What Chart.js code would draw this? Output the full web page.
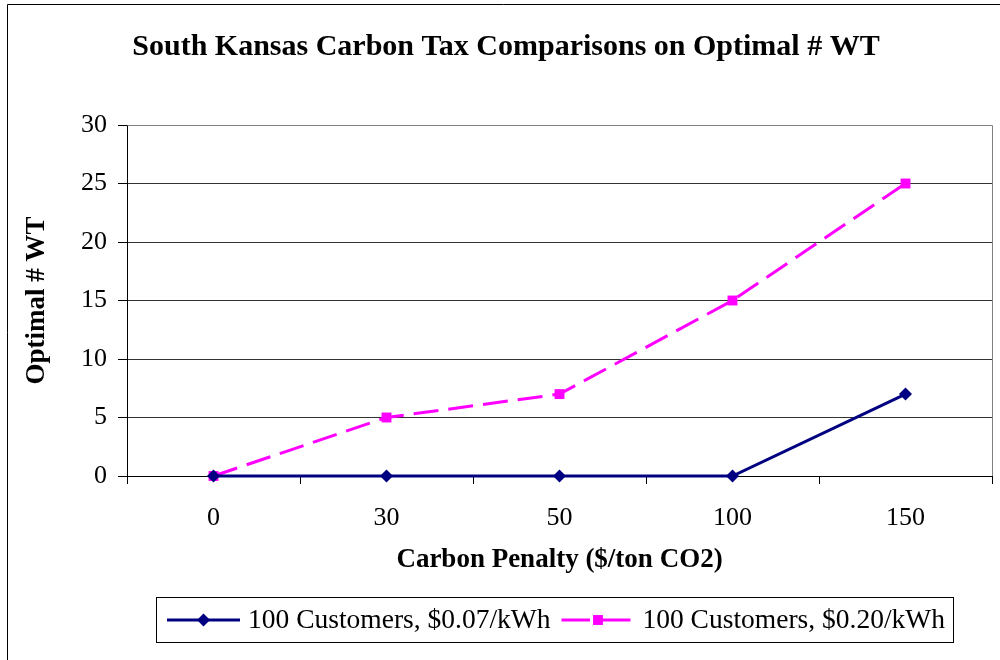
<!DOCTYPE html>
<html>
<head>
<meta charset="utf-8">
<script src="https://cdn.jsdelivr.net/npm/chart.js@4.4.1/dist/chart.umd.min.js"></script>
<style>
  html, body { margin: 0; padding: 0; background: #fff; overflow: hidden; }
  canvas { display: block; }
</style>
</head>
<body>
<canvas id="chart" width="1000" height="660"></canvas>
<script>
const serif = '"Liberation Serif", "Times New Roman", serif';

// chart data
const penalties = ["0", "30", "50", "100", "150"];
const lowPrice = [0, 0, 0, 0, 7];
const highPrice = [0, 5, 7, 15, 25];
const seriesNames = ["100 Customers, $0.07/kWh", "100 Customers, $0.20/kWh"];
const yTicks = [0, 5, 10, 15, 20, 25, 30];

// outer frame of the chart object (only top and left edges are in view)
const framePlugin = {
  id: "frame",
  beforeDraw(chart) {
    const ctx = chart.ctx;
    ctx.save();
    ctx.strokeStyle = "#000";
    ctx.lineWidth = 1;
    ctx.beginPath();
    ctx.moveTo(7.5, 660);
    ctx.lineTo(7.5, 4.5);
    ctx.lineTo(1000, 4.5);
    ctx.stroke();
    ctx.restore();
  },
  afterDatasetsDraw(chart) {
    // grey plot area border on top and right
    const { ctx, chartArea: a } = chart;
    ctx.save();
    ctx.strokeStyle = "#808080";
    ctx.lineWidth = 1;
    ctx.beginPath();
    ctx.moveTo(Math.round(a.left) + 0.5, Math.round(a.top) + 0.5);
    ctx.lineTo(Math.round(a.right) + 0.5, Math.round(a.top) + 0.5);
    ctx.lineTo(Math.round(a.right) + 0.5, Math.round(a.bottom));
    ctx.stroke();
    ctx.restore();
  }
};

function drawMarker(ctx, style, x, y, r, color) {
  ctx.fillStyle = color;
  ctx.beginPath();
  if (style === "rectRot") {
    ctx.moveTo(x - r, y);
    ctx.lineTo(x, y - r);
    ctx.lineTo(x + r, y);
    ctx.lineTo(x, y + r);
    ctx.closePath();
  } else {
    const s = r * Math.SQRT1_2;
    ctx.rect(x - s, y - s, 2 * s, 2 * s);
  }
  ctx.fill();
}

// boxed legend under the x axis title
const legendPlugin = {
  id: "boxLegend",
  afterDraw(chart) {
    const ctx = chart.ctx;
    const font = "27.5px " + serif;
    ctx.save();
    ctx.font = font;
    const lineLen = 73, gapText = 8, gapItem = 11, padL = 11, padR = 8;
    const widths = chart.data.datasets.map(d => ctx.measureText(d.label).width);
    let total = padL + padR;
    widths.forEach((w, i) => { total += lineLen + gapText + w + (i ? gapItem : 0); });
    const top = 597, h = 45;
    const left = Math.round(554 - total / 2);
    ctx.strokeStyle = "#000";
    ctx.lineWidth = 1;
    ctx.strokeRect(left + 0.5, top + 0.5, Math.round(total), h);
    const cy = top + h / 2 + 0.5;
    let x = left + padL;
    chart.data.datasets.forEach((d, i) => {
      if (i) x += gapItem;
      ctx.strokeStyle = d.borderColor;
      ctx.lineWidth = d.borderWidth;
      // dashed sample: one dash each side of the marker
      ctx.setLineDash(d.borderDash ? [lineLen / 2 - 8, 12] : []);
      ctx.beginPath();
      ctx.moveTo(x, cy);
      ctx.lineTo(x + lineLen, cy);
      ctx.stroke();
      ctx.setLineDash([]);
      drawMarker(ctx, d.pointStyle, x + lineLen / 2, cy, d.pointRadius, d.borderColor);
      x += lineLen + gapText;
      ctx.fillStyle = "#000";
      ctx.textBaseline = "middle";
      ctx.textAlign = "left";
      ctx.fillText(d.label, x, cy + 1);
      x += widths[i];
    });
    ctx.restore();
  }
};

new Chart(document.getElementById("chart"), {
  type: "line",
  data: {
    labels: penalties,
    datasets: [
      {
        label: seriesNames[0],
        data: lowPrice,
        borderColor: "#000080",
        backgroundColor: "#000080",
        borderWidth: 3,
        pointStyle: "rectRot",
        pointRadius: 6.5,
        pointBorderWidth: 0,
        tension: 0,
        clip: false
      },
      {
        label: seriesNames[1],
        data: highPrice,
        borderColor: "#FF00FF",
        backgroundColor: "#FF00FF",
        borderWidth: 3,
        borderDash: [25, 10],
        pointStyle: "rect",
        pointRadius: 7,
        pointBorderWidth: 0,
        tension: 0,
        clip: false
      }
    ]
  },
  options: {
    responsive: false,
    animation: false,
    layout: { padding: { left: 20, right: 8, top: 0, bottom: 86.5 } },
    plugins: {
      legend: { display: false },
      tooltip: { enabled: false },
      title: {
        display: true,
        text: "South Kansas Carbon Tax Comparisons on Optimal # WT",
        color: "#000",
        font: { family: serif, size: 30, weight: "bold", lineHeight: 1 },
        padding: { top: 32, bottom: 63 }
      }
    },
    scales: {
      x: {
        offset: true,
        grid: {
          offset: true,
          drawOnChartArea: false,
          tickLength: 8,
          tickColor: "#000"
        },
        border: { color: "#000", width: 1 },
        ticks: {
          color: "#000",
          padding: 21,
          maxRotation: 0,
          font: { family: serif, size: 26, lineHeight: 1 }
        },
        title: {
          display: true,
          text: "Carbon Penalty ($/ton CO2)",
          color: "#000",
          font: { family: serif, size: 27, weight: "bold", lineHeight: 1 },
          padding: { top: -5.5, bottom: 0 }
        }
      },
      y: {
        min: 0,
        max: 30,
        afterBuildTicks(axis) { axis.ticks = yTicks.map(v => ({ value: v })); },
        grid: {
          color: "#333",
          tickLength: 9,
          tickColor: "#000"
        },
        border: { color: "#000", width: 1 },
        ticks: {
          color: "#000",
          padding: 11,
          font: { family: serif, size: 26, lineHeight: 1 }
        },
        title: {
          display: true,
          text: "Optimal # WT",
          color: "#000",
          font: { family: serif, size: 27, weight: "bold", lineHeight: 1 },
          padding: { top: 3.5, bottom: 19.5 }
        }
      }
    }
  },
  plugins: [framePlugin, legendPlugin]
});
</script>
</body>
</html>
